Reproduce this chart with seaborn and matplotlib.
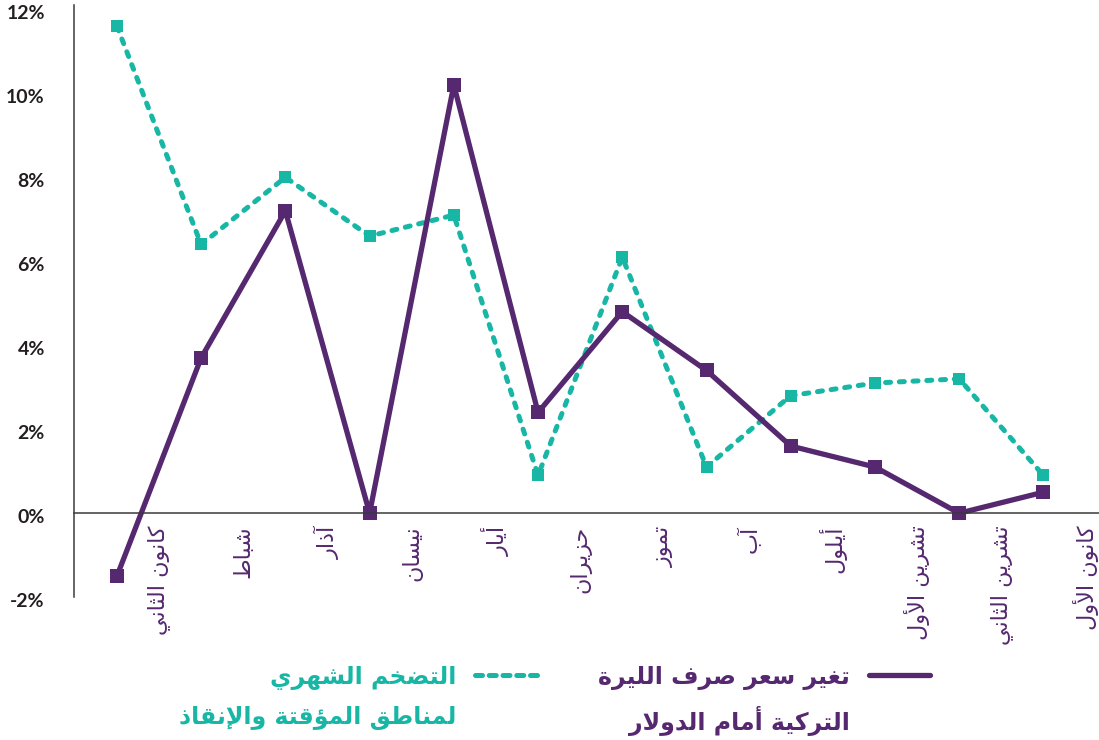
import numpy as np
import pandas as pd
import matplotlib
matplotlib.use('Agg')
import matplotlib.pyplot as plt
import matplotlib.transforms as mtransforms
from matplotlib.lines import Line2D
import seaborn as sns

# данные
months = ['كانون الثاني', 'شباط', 'آذار', 'نيسان', 'أيار', 'حزيران',
          'تموز', 'آب', 'أيلول', 'تشرين الأول', 'تشرين الثاني', 'كانون الأول']
lira_change = [-1.5, 3.7, 7.2, 0.0, 10.2, 2.4, 4.8, 3.4, 1.6, 1.1, 0.0, 0.5]
inflation = [11.6, 6.4, 8.0, 6.6, 7.1, 0.9, 6.1, 1.1, 2.8, 3.1, 3.2, 0.9]
y_ticks = [-2, 0, 2, 4, 6, 8, 10, 12]
lira_label = ['تغير سعر صرف الليرة', 'التركية أمام الدولار']
infl_label = ['التضخم الشهري', 'لمناطق المؤقتة والإنقاذ']

purple = '#55286f'
teal = '#17b6a5'

# matplotlib does no arabic shaping -> presentation forms + reverse
_order = 'ءآأؤإئابةتثجحخدذرزسشصضطظعغفقكلمنهوىي'
_nforms = [1, 2, 2, 2, 2, 4, 2, 4, 2, 4, 4, 4, 4, 4, 2, 2, 2, 2, 4, 4,
           4, 4, 4, 4, 4, 4, 4, 4, 4, 4, 4, 4, 4, 2, 2, 4]
forms = {}
code = 0xFE80
for ch, n in zip(_order, _nforms):
    forms[ch] = [chr(code + k) for k in range(n)]
    code += n
lam_alef = {'آ': 0xFEF5, 'أ': 0xFEF7, 'إ': 0xFEF9, 'ا': 0xFEFB}


def shape(text):
    out = []
    i = 0
    prev_joins = False
    while i < len(text):
        c = text[i]
        if c not in forms:
            out.append(c)
            prev_joins = False
            i += 1
            continue
        nxt = text[i + 1] if i + 1 < len(text) else ''
        if c == 'ل' and nxt in lam_alef:
            out.append(chr(lam_alef[nxt] + (1 if prev_joins else 0)))
            prev_joins = False
            i += 2
            continue
        f = forms[c]
        joins_next = len(f) == 4 and nxt in forms
        if len(f) == 1:
            g = f[0]
        elif prev_joins and joins_next:
            g = f[3]
        elif prev_joins:
            g = f[1]
        elif joins_next:
            g = f[2]
        else:
            g = f[0]
        out.append(g)
        prev_joins = joins_next
        i += 1
    return ''.join(out[::-1])


df = pd.DataFrame({'pos': np.arange(len(months)),
                   'lira': lira_change,
                   'infl': inflation})

sns.set_theme(style='white')
plt.rcParams['font.family'] = ['DejaVu Sans']

fig = plt.figure(figsize=(10.99, 7.40), dpi=100)
ax = fig.add_axes([0.0673, 0.193, 0.9327, 0.80])

sns.lineplot(data=df, x='pos', y='infl', ax=ax, color=teal, linewidth=3.6,
             marker='s', markersize=8.5, markeredgewidth=0, legend=False)
l_infl = ax.lines[-1]
l_infl.set_dashes((1.0, 1.75))
l_infl.set_dash_capstyle('round')
sns.lineplot(data=df, x='pos', y='lira', ax=ax, color=purple, linewidth=3.8,
             marker='s', markersize=9.5, markeredgewidth=0, legend=False)

ax.set_xlim(-0.51, 11.66)
ax.set_ylim(-2, 12.1)
ax.set_xlabel('')
ax.set_ylabel('')

for s in ['top', 'right']:
    ax.spines[s].set_visible(False)
ax.spines['bottom'].set_position(('data', 0))
for s in ['bottom', 'left']:
    ax.spines[s].set_color('#3a3a3a')
    ax.spines[s].set_linewidth(1.1)

ax.set_xticks(df['pos'] + 0.5)
ax.set_xticklabels([shape(m) for m in months], rotation=90, va='top',
                   ha='center', color=purple, fontsize=16)
ax.tick_params(axis='x', direction='in', length=10, width=1.1,
               color='#3a3a3a', pad=9)

ax.set_yticks(y_ticks)
ax.set_yticklabels(['%d%%' % v for v in y_ticks], family='Lato',
                   fontweight='bold', fontsize=14, color='#231f20')
ax.tick_params(axis='y', length=0, pad=21)
shift = mtransforms.ScaledTranslation(0, -3 / 100, fig.dpi_scale_trans)
for t in ax.get_yticklabels():
    t.set_transform(t.get_transform() + shift)

# легенда
h_infl = Line2D([], [], color=teal, linewidth=3.6, dashes=(1.4, 1.35),
                dash_capstyle='round')
h_lira = Line2D([], [], color=purple, linewidth=3.8, solid_capstyle='round')
leg = fig.legend(handles=[h_infl, h_lira],
                 labels=[shape(infl_label[0]), shape(lira_label[0])],
                 ncol=2, loc='center', bbox_to_anchor=(0.546, 0.085),
                 markerfirst=False, frameon=False, handlelength=2.6,
                 handletextpad=0.8, columnspacing=2.6,
                 prop={'family': 'DejaVu Sans', 'weight': 'bold', 'size': 17})
for t, c in zip(leg.get_texts(), [teal, purple]):
    t.set_color(c)

fig.canvas.draw()
r = fig.canvas.get_renderer()
for t, lab, c in zip(leg.get_texts(), [infl_label, lira_label], [teal, purple]):
    bb = t.get_window_extent(r).transformed(fig.transFigure.inverted())
    fig.text(bb.x1, bb.y0 - 0.022, shape(lab[1]), ha='right', va='top',
             color=c, fontsize=17, fontweight='bold', family='DejaVu Sans')

plt.savefig('out.png', dpi=100)
